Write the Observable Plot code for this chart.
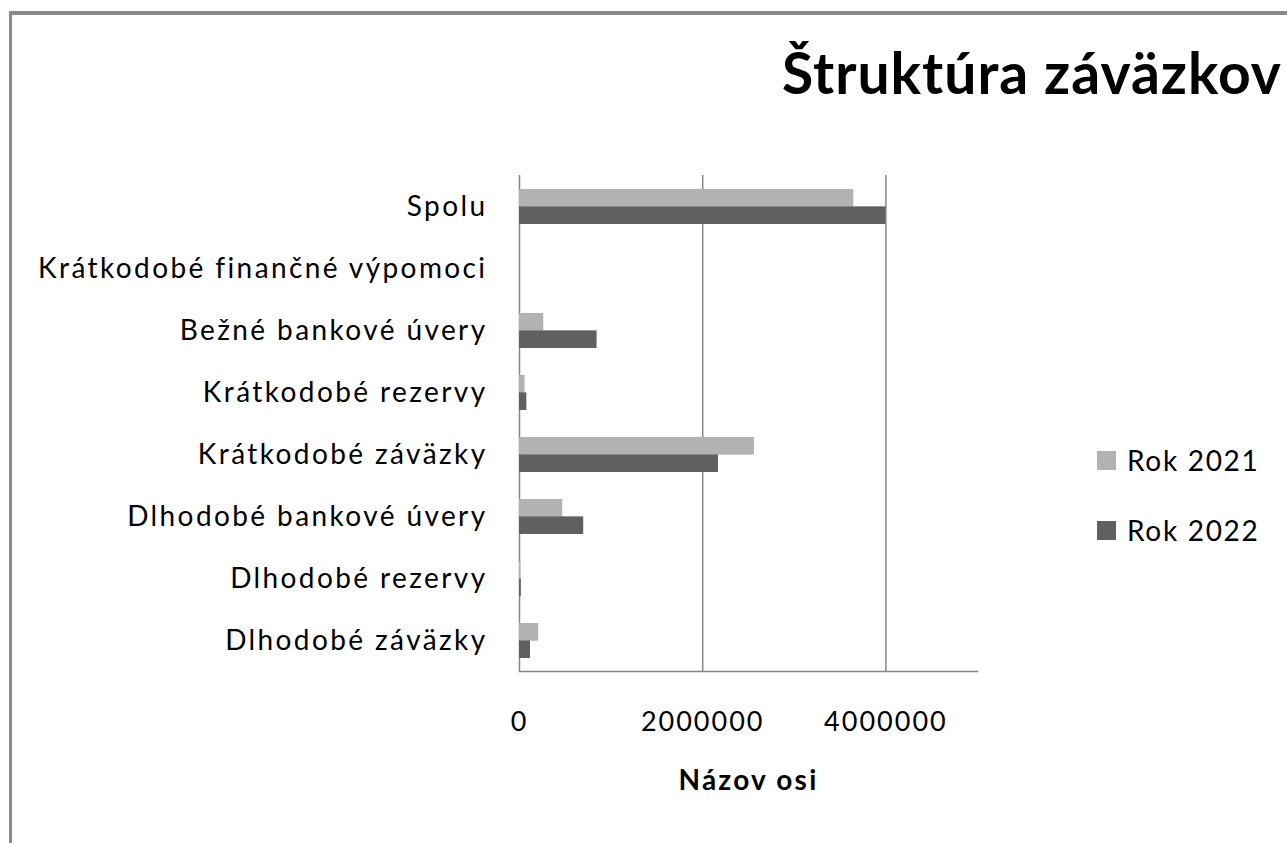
<!DOCTYPE html>
<html>
<head>
<meta charset="utf-8">
<script src="https://cdn.jsdelivr.net/npm/d3@7"></script>
<script src="https://cdn.jsdelivr.net/npm/@observablehq/plot@0.6"></script>
<style>
  html, body { margin: 0; padding: 0; background: #fff; overflow: hidden; }
  #wrap { position: relative; width: 1287px; height: 843px; overflow: hidden; font-family: Lato, "Open Sans", sans-serif; }
  #border { position: absolute; left: 9px; top: 11px; width: 1400px; height: 1000px; border-top: 4px solid #8a8a8a; border-left: 3px solid #8a8a8a; }
  #title { position: absolute; left: 782px; top: 44px; font-size: 57px; font-weight: bold; white-space: nowrap; line-height: 1; color: #000; letter-spacing: 1px; }
  #chart { position: absolute; left: 0; top: 0; }
  .leg { position: absolute; left: 1097px; display: flex; align-items: center; font-size: 28px; color: #000; white-space: nowrap; letter-spacing: 1.7px; }
  .sw { width: 19px; height: 19px; margin-right: 11px; }
  #chart g[aria-label="y-axis tick label"] text { letter-spacing: 2.4px; }
  #chart g[aria-label="x-axis tick label"] text { letter-spacing: 2px; }
  #chart g[aria-label="text"] text { letter-spacing: 2.2px; }
</style>
</head>
<body>
<div id="wrap">
  <div id="border"></div>
  <div id="chart"></div>
  <div id="title"></div>
  <div id="legend"></div>
</div>
<script>
const titleText = "Štruktúra záväzkov";
const axisTitle = "Názov osi";
const categories = [
  "Spolu",
  "Krátkodobé finančné výpomoci",
  "Bežné bankové úvery",
  "Krátkodobé rezervy",
  "Krátkodobé záväzky",
  "Dlhodobé bankové úvery",
  "Dlhodobé rezervy",
  "Dlhodobé záväzky"
];
const seriesNames = ["Rok 2021", "Rok 2022"];
const rok2021 = [3650000, 0, 265000, 60000, 2565000, 472000, 15000, 210000];
const rok2022 = [4000000, 0, 847000, 80000, 2173000, 701000, 20000, 120000];
const xTicks = [0, 2000000, 4000000];
const colors = ["#b2b2b2", "#606060"];

const rows = [];
categories.forEach((c, i) => {
  rows.push({category: c, series: seriesNames[0], value: rok2021[i]});
  rows.push({category: c, series: seriesNames[1], value: rok2022[i]});
});

const W = 1287, H = 843, mt = 175, mb = 172, ml = 519, mr = 310;
const padIn = 0.44, padOut = 0.22;
const step = (H - mt - mb) / (categories.length - padIn + 2 * padOut);
const half = step * (1 - padIn) / 2;

const chart = Plot.plot({
  width: W, height: H,
  marginTop: mt, marginBottom: mb, marginLeft: ml, marginRight: mr,
  style: {fontFamily: "Lato, 'Open Sans', sans-serif", color: "#000", background: "transparent"},
  x: {domain: [0, 5000000], label: null},
  y: {domain: categories, paddingInner: padIn, paddingOuter: padOut, label: null},
  color: {domain: seriesNames, range: colors},
  marks: [
    Plot.ruleX(xTicks, {stroke: "#868686", strokeWidth: 1.5}),
    Plot.barX(rows.filter(d => d.series === seriesNames[0]), {x: "value", y: "category", fill: "series", insetBottom: half}),
    Plot.barX(rows.filter(d => d.series === seriesNames[1]), {x: "value", y: "category", fill: "series", insetTop: half}),
    Plot.frame({anchor: "bottom", stroke: "#868686", strokeWidth: 1.5}),
    Plot.axisX(xTicks, {tickSize: 0, tickPadding: 40, tickFormat: d => String(d), fontSize: 27, fill: "#000"}),
    Plot.axisY({tickSize: 0, tickPadding: 32, fontSize: 28, fill: "#000"}),
    Plot.text([axisTitle], {frameAnchor: "bottom", dy: 118, fontSize: 28, fontWeight: "bold", fill: "#000"})
  ]
});
document.getElementById("chart").appendChild(chart);
document.getElementById("title").textContent = titleText;

const legend = document.getElementById("legend");
const legTops = [443, 513];
seriesNames.forEach((s, i) => {
  const row = document.createElement("div");
  row.className = "leg";
  row.style.top = legTops[i] + "px";
  const sw = document.createElement("div");
  sw.className = "sw";
  sw.style.background = colors[i];
  const t = document.createElement("span");
  t.textContent = s;
  row.appendChild(sw);
  row.appendChild(t);
  legend.appendChild(row);
});
</script>
</body>
</html>
